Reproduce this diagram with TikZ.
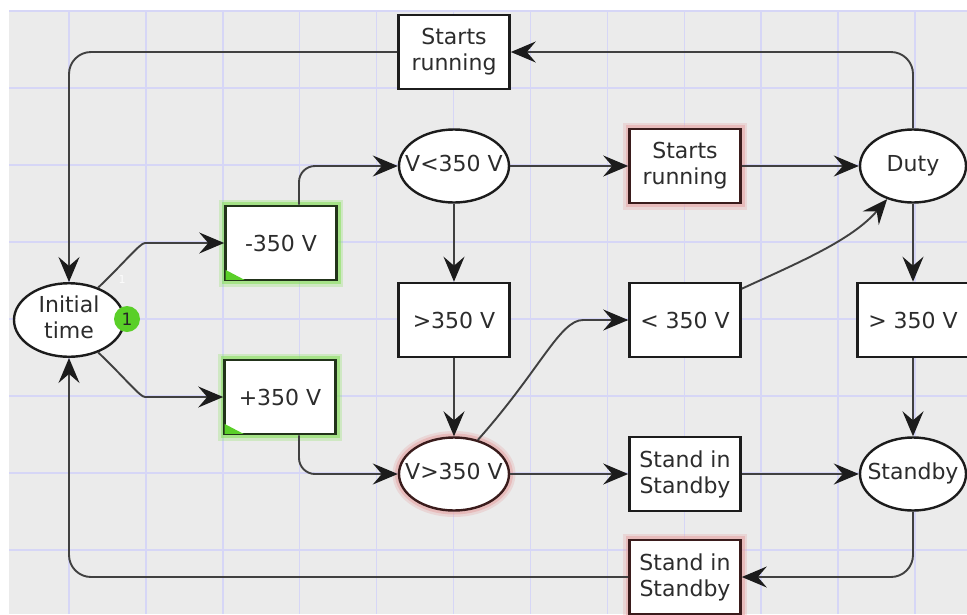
\documentclass[tikz,border=0pt]{standalone}
\usepackage{fontspec}
\setmainfont{DejaVu Sans}
\usetikzlibrary{arrows.meta,shapes.geometric}
\definecolor{paper}{HTML}{EBEBEB}
\definecolor{gridc}{HTML}{D6D6F6}
\definecolor{ink}{HTML}{1C1C1C}
\definecolor{wire}{HTML}{404040}
\definecolor{txt}{HTML}{2C2C2C}
\definecolor{glowg}{HTML}{7FE04E}
\definecolor{glowr}{HTML}{E6A6A6}
\definecolor{tokeng}{HTML}{5ACF28}
\definecolor{inkg}{HTML}{22331A}
\definecolor{inkr}{HTML}{3A1C1C}
% zero-width text so an ellipse keeps its set size
\newcommand{\ptext}[1]{\makebox[0pt]{\begin{tabular}{@{}c@{}}#1\end{tabular}}}

\begin{document}
\begin{tikzpicture}[x=1pt,y=-1pt,
  every node/.style={font=\fontsize{22}{26}\selectfont, text=txt},
  trans/.style={draw=ink, line width=2.6pt, fill=white, minimum width=111pt,
    minimum height=74pt, inner sep=0pt, align=center},
  place/.style={ellipse, draw=ink, line width=2.4pt, fill=white, minimum width=110pt,
    minimum height=73pt, inner sep=0pt},
  greenglow/.style={draw=inkg,
    preaction={draw=glowg, line width=13pt, opacity=0.25},
    preaction={draw=glowg, line width=8pt, opacity=0.5}},
  redglow/.style={draw=inkr,
    preaction={draw=glowr, line width=13pt, opacity=0.3},
    preaction={draw=glowr, line width=8pt, opacity=0.55}},
  arr/.style={draw=wire, line width=1.9pt, rounded corners=22pt,
    -{Stealth[length=25pt, width=21pt, inset=9pt, color=ink]}},
  corner/.style={fill=tokeng}
]
\useasboundingbox (0,0) rectangle (967,614);
% canvas and grid
\fill[white] (0,0) rectangle (967,614);
\fill[paper] (9,10) rectangle (967,614);
\foreach \gx in {69,145.9,222.8,299.7,376.6,453.5,530.4,607.3,684.2,761.1,838,914.9}
  \draw[gridc, line width=1.4pt] (\gx,10) -- (\gx,614);
\foreach \gy in {11,88,165,242,319,396,473,550}
  \draw[gridc, line width=1.4pt] (9,\gy) -- (967,\gy);

% places
\node[place] (init) at (69,320) {\ptext{Initial\\time}};
\node[place] (vlt) at (454,166) {\ptext{V<350 V}};
\node[place, redglow] (vgt) at (454,474) {\ptext{V>350 V}};
\node[place, minimum width=106pt] (duty) at (913,166) {\ptext{Duty}};
\node[place, minimum width=106pt] (standby) at (913,474) {\ptext{Standby}};

% transitions
\node[trans] (startTop) at (454,52) {Starts\\running};
\node[trans, redglow] (runR) at (685,166) {Starts\\running};
\node[trans, greenglow] (m350) at (281,243) {-350 V};
\node[trans, greenglow] (p350) at (280,397) {+350 V};
\node[trans] (gt350) at (454,320) {>350 V};
\node[trans] (lt350) at (685,320) {< 350 V};
\node[trans] (dgt350) at (913,320) {> 350 V};
\node[trans] (sis) at (685,474) {Stand in\\Standby};
\node[trans, redglow] (sisB) at (685,577) {Stand in\\Standby};

% enabled-transition corner marks
\fill[corner] ([shift={(1.4,-1.4)}]m350.south west) -- ++(19,0) -- ++(-19,-10) -- cycle;
\fill[corner] ([shift={(1.4,-1.4)}]p350.south west) -- ++(19,0) -- ++(-19,-10) -- cycle;

% token and arc weight
\node[circle, fill=tokeng, minimum size=26pt, inner sep=0pt,
  font=\fontsize{17}{17}\selectfont, text=black!85] (tok) at (127,319) {1};
\node[font=\fontsize{11}{11}\selectfont, text=white, opacity=0.85] (w1) at (122,279) {1};

% arcs
\coordinate (ltout) at ([yshift=-7pt]lt350.north east);
\draw[arr] (duty.north) |- (startTop.east);
\draw[arr] (startTop.west) -| (init.north);
\draw[arr] (init.48) .. controls (125,262) and (140,243) .. (167,243) -- (m350.west);
\draw[arr] (init.-48) .. controls (125,378) and (140,397) .. (167,397) -- (p350.west);
\draw[arr, rounded corners=16pt] ([xshift=18pt]m350.north) |- (vlt.west);
\draw[arr, rounded corners=16pt] ([xshift=19pt]p350.south) |- (vgt.west);
\draw[arr] (vlt.east) -- (runR.west);
\draw[arr] (vlt.south) -- (gt350.north);
\draw[arr] (gt350.south) -- (vgt.north);
\draw[arr] (runR.east) -- (duty.west);
\draw[arr] (vgt.55) .. controls (540,370) and (560,320) .. (605,320) -- (lt350.west);
\draw[arr] (ltout) .. controls (800,262) and (852,240) .. (duty.-128);
\draw[arr] (duty.south) -- (dgt350.north);
\draw[arr] (dgt350.south) -- (standby.north);
\draw[arr] (vgt.east) -- (sis.west);
\draw[arr] (sis.east) -- (standby.west);
\draw[arr] (standby.south) |- (sisB.east);
\draw[arr] (sisB.west) -| (init.south);
\end{tikzpicture}
\end{document}
